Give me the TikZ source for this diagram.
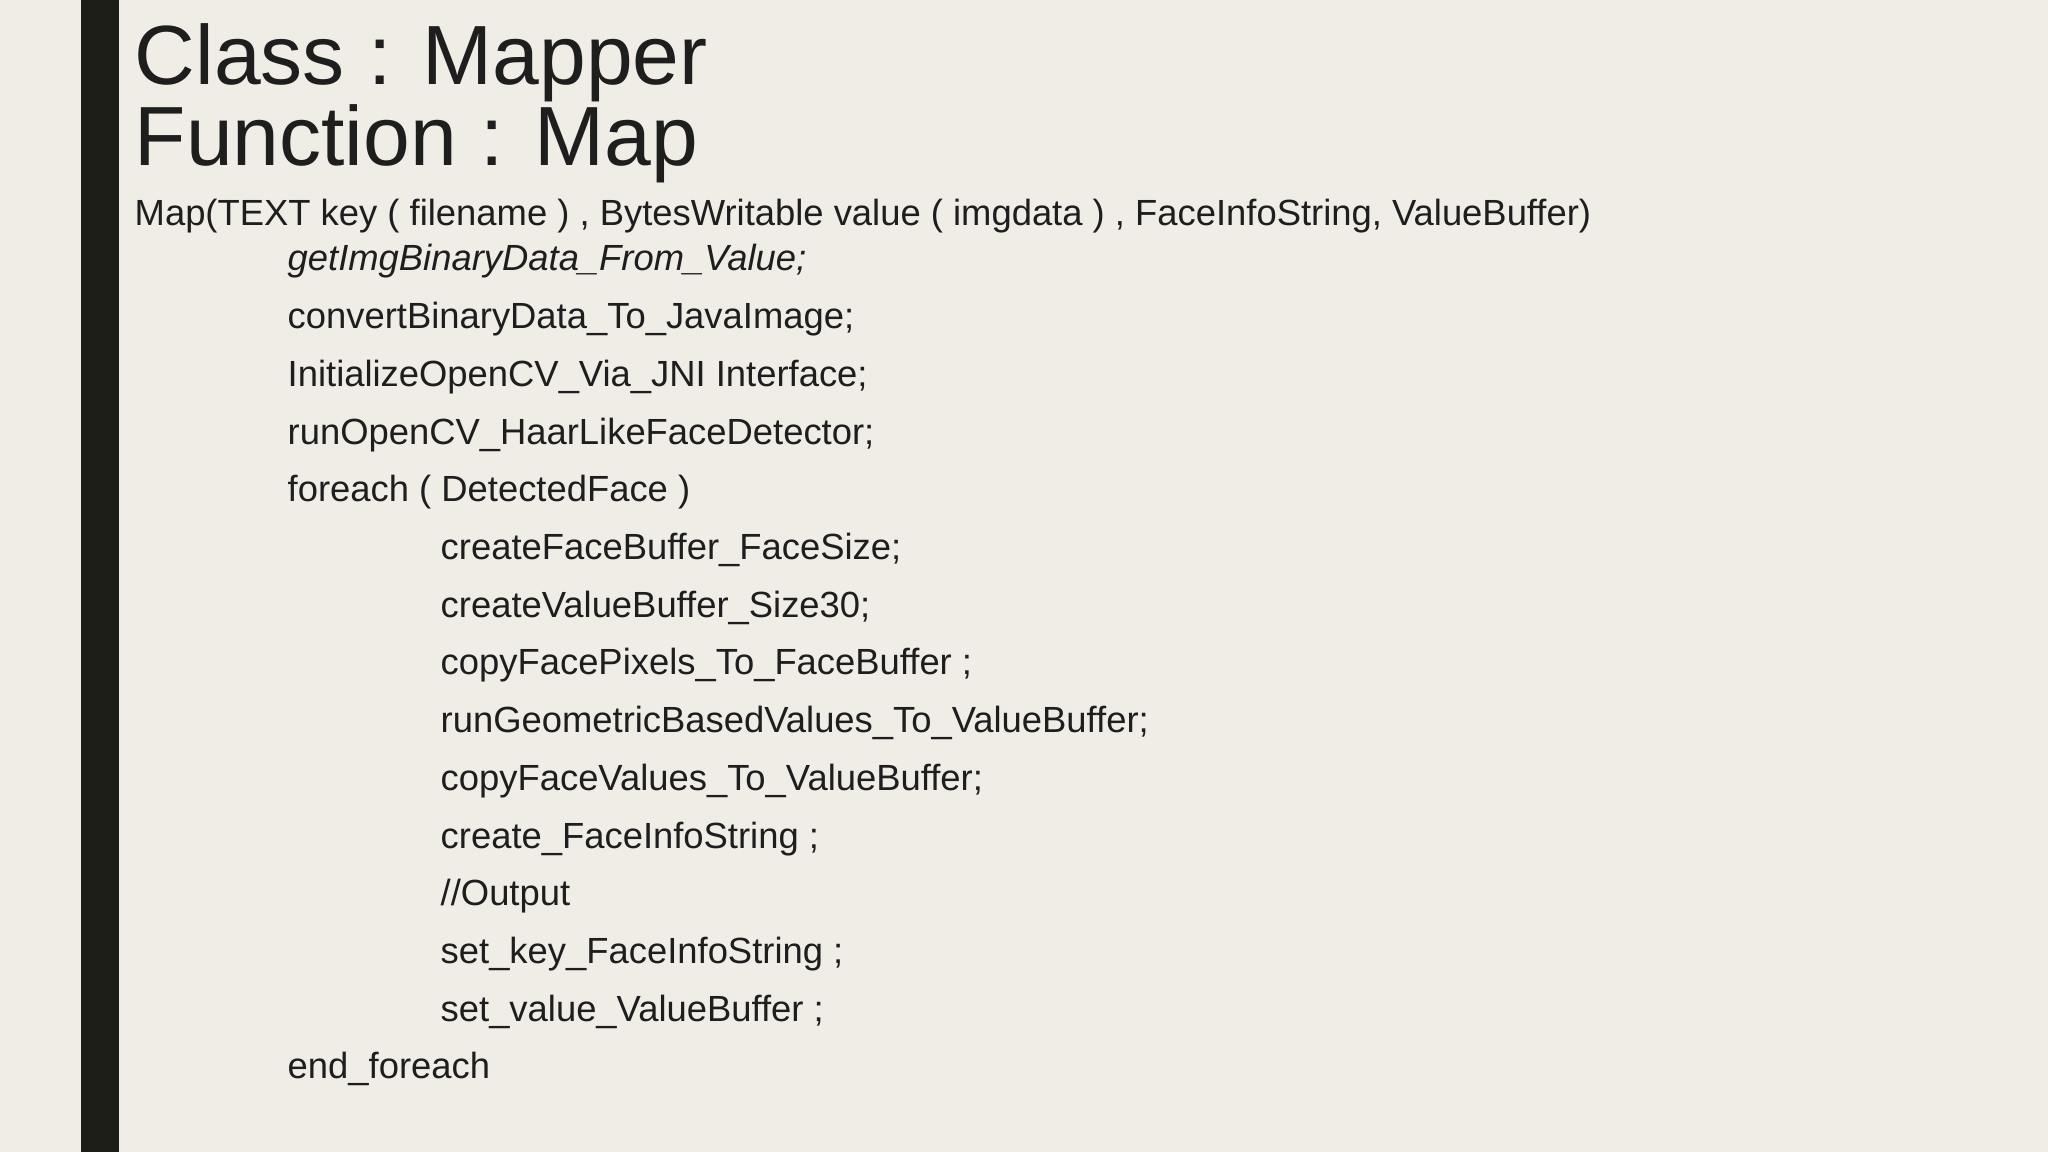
\documentclass[tikz,border=0pt]{standalone}
\usepackage{fontspec}
\setmainfont{Liberation Sans}
\definecolor{bg}{HTML}{F0ECE6}
\definecolor{bar}{HTML}{1C1E17}
\definecolor{ink}{HTML}{1E1E1E}
\begin{document}
\begin{tikzpicture}[x=0.01cm,y=-0.01cm,
  big/.style={anchor=base west,inner sep=0,text=ink,font=\fontsize{23.9}{26}\selectfont},
  body/.style={anchor=base west,inner sep=0,text=ink,font=\fontsize{10.35}{12}\selectfont}]
\fill[bg] (0,0) rectangle (2048,1152);
\useasboundingbox (0,0) rectangle (2048,1152);
\fill[bar] (81,0) rectangle (119,1152);
\node[big] (t1) at (134,85) {Class : Mapper};
\node[big] (t2) at (134,166) {Function : Map};
\node[body] (m) at (134,226) {Map(TEXT key ( filename ) , BytesWritable value ( imgdata ) , FaceInfoString, ValueBuffer)};
\node[body] (l1) at (287,271) {\itshape getImgBinaryData\_From\_Value;};
\node[body] (l2) at (287,328.7) {convertBinaryData\_To\_JavaImage;};
\node[body] (l3) at (287,386.4) {InitializeOpenCV\_Via\_JNI Interface;};
\node[body] (l4) at (287,444.1) {runOpenCV\_HaarLikeFaceDetector;};
\node[body] (l5) at (287,501.8) {foreach ( DetectedFace )};
\node[body] (l6) at (440,559.5) {createFaceBuffer\_FaceSize;};
\node[body] (l7) at (440,617.2) {createValueBuffer\_Size30;};
\node[body] (l8) at (440,674.9) {copyFacePixels\_To\_FaceBuffer ;};
\node[body] (l9) at (440,732.6) {runGeometricBasedValues\_To\_ValueBuffer;};
\node[body] (l10) at (440,790.3) {copyFaceValues\_To\_ValueBuffer;};
\node[body] (l11) at (440,848) {create\_FaceInfoString ;};
\node[body] (l12) at (440,905.7) {//Output};
\node[body] (l13) at (440,963.4) {set\_key\_FaceInfoString ;};
\node[body] (l14) at (440,1021.1) {set\_value\_ValueBuffer ;};
\node[body] (l15) at (287,1078.8) {end\_foreach};
\end{tikzpicture}
\end{document}
